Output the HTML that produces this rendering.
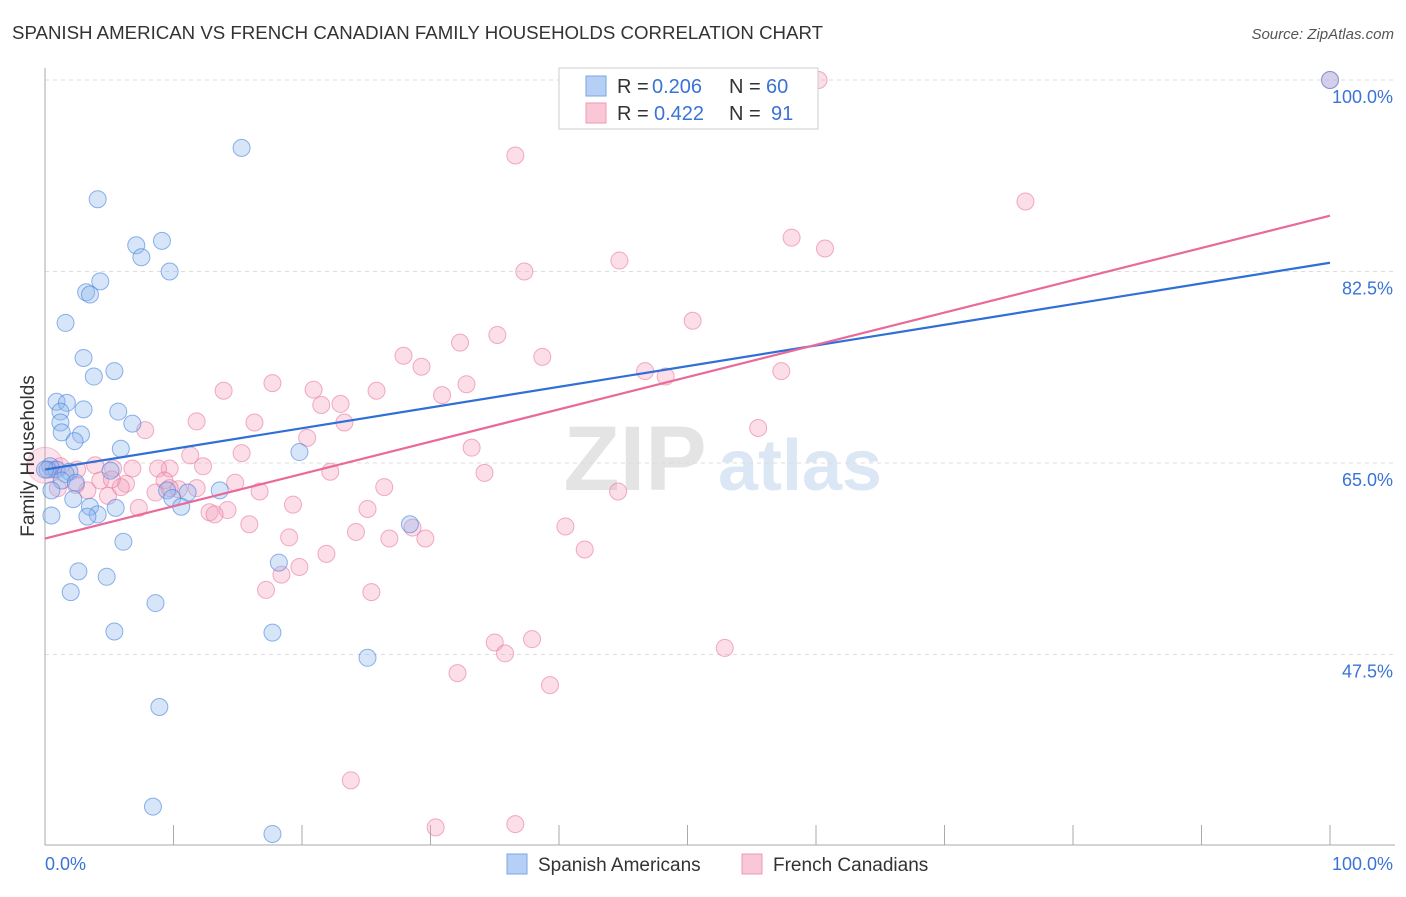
<!DOCTYPE html>
<html><head><meta charset="utf-8"><style>
body{margin:0;background:#fff;font-family:"Liberation Sans",sans-serif}
svg text{font-family:"Liberation Sans",sans-serif}
</style></head><body>
<svg id="chart" width="1406" height="892" xmlns="http://www.w3.org/2000/svg">
<text x="12" y="39" font-size="18.6" fill="#333" textLength="811" lengthAdjust="spacingAndGlyphs">SPANISH AMERICAN VS FRENCH CANADIAN FAMILY HOUSEHOLDS CORRELATION CHART</text>
<text x="1394" y="39" font-size="15" fill="#555" font-style="italic" text-anchor="end">Source: ZipAtlas.com</text>
<g>
<text x="635" y="490" font-size="92" fill="#e4e4e4" font-family="Liberation Serif" text-anchor="middle" font-weight="bold">ZIP</text>
<text x="800" y="490" font-size="72" fill="#dce7f5" text-anchor="middle" font-weight="bold">atlas</text>
</g>
<g id="grid"></g>
<g id="axes"></g>
<g id="pts"></g>
<g id="trends"></g>
<g>
<rect x="559" y="68" width="259" height="61" fill="#fff" stroke="#ccc"/>
<rect x="586" y="76" width="20" height="20" fill="#b6d0f5" stroke="#7aa6e6"/>
<rect x="586" y="103" width="20" height="20" fill="#f9c7d6" stroke="#ef9ab5"/>
<text x="617" y="93" font-size="20" fill="#333">R =</text>
<text x="652" y="93" font-size="20" fill="#3a73d6">0.206</text>
<text x="729" y="93" font-size="20" fill="#333">N =</text>
<text x="766" y="93" font-size="20" fill="#3a73d6">60</text>
<text x="617" y="120" font-size="20" fill="#333">R =</text>
<text x="654" y="120" font-size="20" fill="#3a73d6">0.422</text>
<text x="729" y="120" font-size="20" fill="#333">N =</text>
<text x="771" y="120" font-size="20" fill="#3a73d6">91</text>
</g>
<g>
<rect x="507" y="854" width="20" height="20" fill="#b6d0f5" stroke="#7aa6e6"/>
<text x="538" y="871" font-size="19" fill="#333">Spanish Americans</text>
<rect x="742" y="854" width="20" height="20" fill="#f9c7d6" stroke="#ef9ab5"/>
<text x="773" y="871" font-size="19" fill="#333">French Canadians</text>
</g>
<text transform="translate(34,456) rotate(-90)" font-size="19" fill="#333" text-anchor="middle">Family Households</text>
</svg>
<script>
const yTicks=[100,82.5,65,47.5];
const yTickLabels=["100.0%","82.5%","65.0%","47.5%"];
const xLabels=["0.0%","100.0%"];
const blueX=[15.3,4.1,7.1,9.1,7.5,9.7,4.3,3.2,3.5,1.6,3.0,5.4,3.8,0.9,1.7,3.0,1.2,5.7,1.2,6.8,1.3,2.8,2.3,5.9,19.8,0.4,0.9,1.9,1.6,5.1,1.3,2.4,0.5,9.5,13.6,11.1,2.2,9.9,10.6,3.5,5.5,4.1,3.3,0.5,28.4,6.1,18.2,2.6,4.8,2.0,8.6,5.4,17.7,25.1,8.9,8.4,17.7,100,0.2,0];
const blueY=[93.8,89.1,84.9,85.3,83.8,82.5,81.6,80.6,80.4,77.8,74.6,73.4,72.9,70.6,70.5,69.9,69.7,69.7,68.7,68.6,67.8,67.6,67.0,66.3,66.0,64.7,64.4,64.2,64.0,64.3,63.4,63.2,62.5,62.5,62.5,62.3,61.7,61.8,61.0,61.0,60.9,60.3,60.1,60.2,59.4,57.8,55.9,55.1,54.6,53.2,52.2,49.6,49.5,47.2,42.7,33.6,31.1,100,64.4,64.4];
const pinkX=[100,60.2,36.6,76.3,58.1,60.7,37.3,44.7,50.4,35.2,32.3,27.9,38.7,29.3,46.7,48.3,57.3,17.7,13.9,20.9,25.8,32.8,30.9,21.5,23.0,11.8,16.3,23.3,7.8,20.4,55.5,33.2,15.3,11.3,3.9,9.7,12.3,8.8,5.3,6.8,22.2,34.2,0.6,2.5,9.3,4.3,6.3,14.8,1.0,3.3,5.9,10.4,26.4,16.7,8.6,4.9,44.6,19.3,7.3,14.2,25.1,12.8,13.2,15.9,28.6,40.5,24.2,26.8,29.6,19.0,42.0,21.9,19.8,18.4,17.2,25.4,35.0,37.9,35.8,52.9,32.1,39.3,23.8,30.4,36.6,11.8,2.4,5.2,1.2,9.7,47.5,49.8];
const pinkY=[100,100,93.1,88.9,85.6,84.6,82.5,83.5,78.0,76.7,76.0,74.8,74.7,73.8,73.4,72.9,73.4,72.3,71.6,71.7,71.6,72.2,71.2,70.3,70.4,68.8,68.7,68.7,68.0,67.3,68.2,66.4,65.9,65.7,64.8,64.5,64.7,64.5,64.5,64.5,64.2,64.1,64.4,64.4,63.4,63.4,63.1,63.2,62.7,62.5,62.8,62.6,62.8,62.4,62.3,62.0,62.4,61.2,60.9,60.7,60.8,60.5,60.3,59.4,59.1,59.2,58.7,58.1,58.1,58.2,57.1,56.7,55.5,54.8,53.4,53.2,48.6,48.9,47.6,48.1,45.8,44.7,36.0,31.7,32.0,62.7,63.0,63.5,64.7,62.7,99.5,99.5];
const blueTrend=[64.4,83.3];
const pinkTrend=[58.1,87.6];
const X0=45,X1=1330,Y100=80,YPX=191.5/17.5;
const sx=v=>X0+(X1-X0)*v/100;
const sy=v=>Y100+(100-v)*YPX;
const NS="http://www.w3.org/2000/svg";
function mk(tag,attrs,parent){const e=document.createElementNS(NS,tag);for(const k in attrs)e.setAttribute(k,attrs[k]);parent.appendChild(e);return e;}
const grid=document.getElementById('grid'),axes=document.getElementById('axes'),pts=document.getElementById('pts'),tr=document.getElementById('trends');
yTicks.forEach((t,i)=>{
 const l=mk('line',{x1:X0,x2:1395,y1:sy(t),y2:sy(t),stroke:'#ddd','stroke-dasharray':'4,4'},grid);
 
 
 const tx=mk('text',{x:1393,y:sy(t)+23,'font-size':18,fill:'#3a73d6','text-anchor':'end'},axes);
 tx.textContent=yTickLabels[i];
 
 
});
let a=mk('line',{x1:X0,x2:X0,y1:68,y2:845,stroke:'#aaa'},axes);


a=mk('line',{x1:X0,x2:1395,y1:845,y2:845,stroke:'#aaa'},axes);


for(let i=0;i<=10;i++){
 const t=mk('line',{x1:sx(i*10),x2:sx(i*10),y1:825,y2:845,stroke:'#aaa'},axes);
 
 
}
[[0,'start',45],[100,'end',1393]].forEach((d,i)=>{
 const t=mk('text',{x:d[2],y:870,'font-size':18,fill:'#3a73d6','text-anchor':d[1]},axes);
 t.textContent=xLabels[i];
 
 
});
pinkX.forEach((x,i)=>{
 const c=mk('circle',{cx:sx(x),cy:sy(pinkY[i]),r:8.5,fill:'rgba(244,160,188,0.35)',stroke:'rgba(233,120,158,0.6)','stroke-width':1},pts);
 
 
});
const big=mk('circle',{cx:sx(0),cy:sy(64.8),r:18,fill:'rgba(244,160,188,0.3)',stroke:'rgba(233,120,158,0.4)'},pts);


blueX.forEach((x,i)=>{
 const c=mk('circle',{cx:sx(x),cy:sy(blueY[i]),r:8.5,fill:'rgba(140,180,238,0.35)',stroke:'rgba(70,130,220,0.6)','stroke-width':1},pts);
 
 
});
let l=mk('line',{x1:sx(0),y1:sy(blueTrend[0]),x2:sx(100),y2:sy(blueTrend[1]),stroke:'#2f6fd6','stroke-width':2.2},tr);


l=mk('line',{x1:sx(0),y1:sy(pinkTrend[0]),x2:sx(100),y2:sy(pinkTrend[1]),stroke:'#e8699a','stroke-width':2.2},tr);


</script>
</body></html>
